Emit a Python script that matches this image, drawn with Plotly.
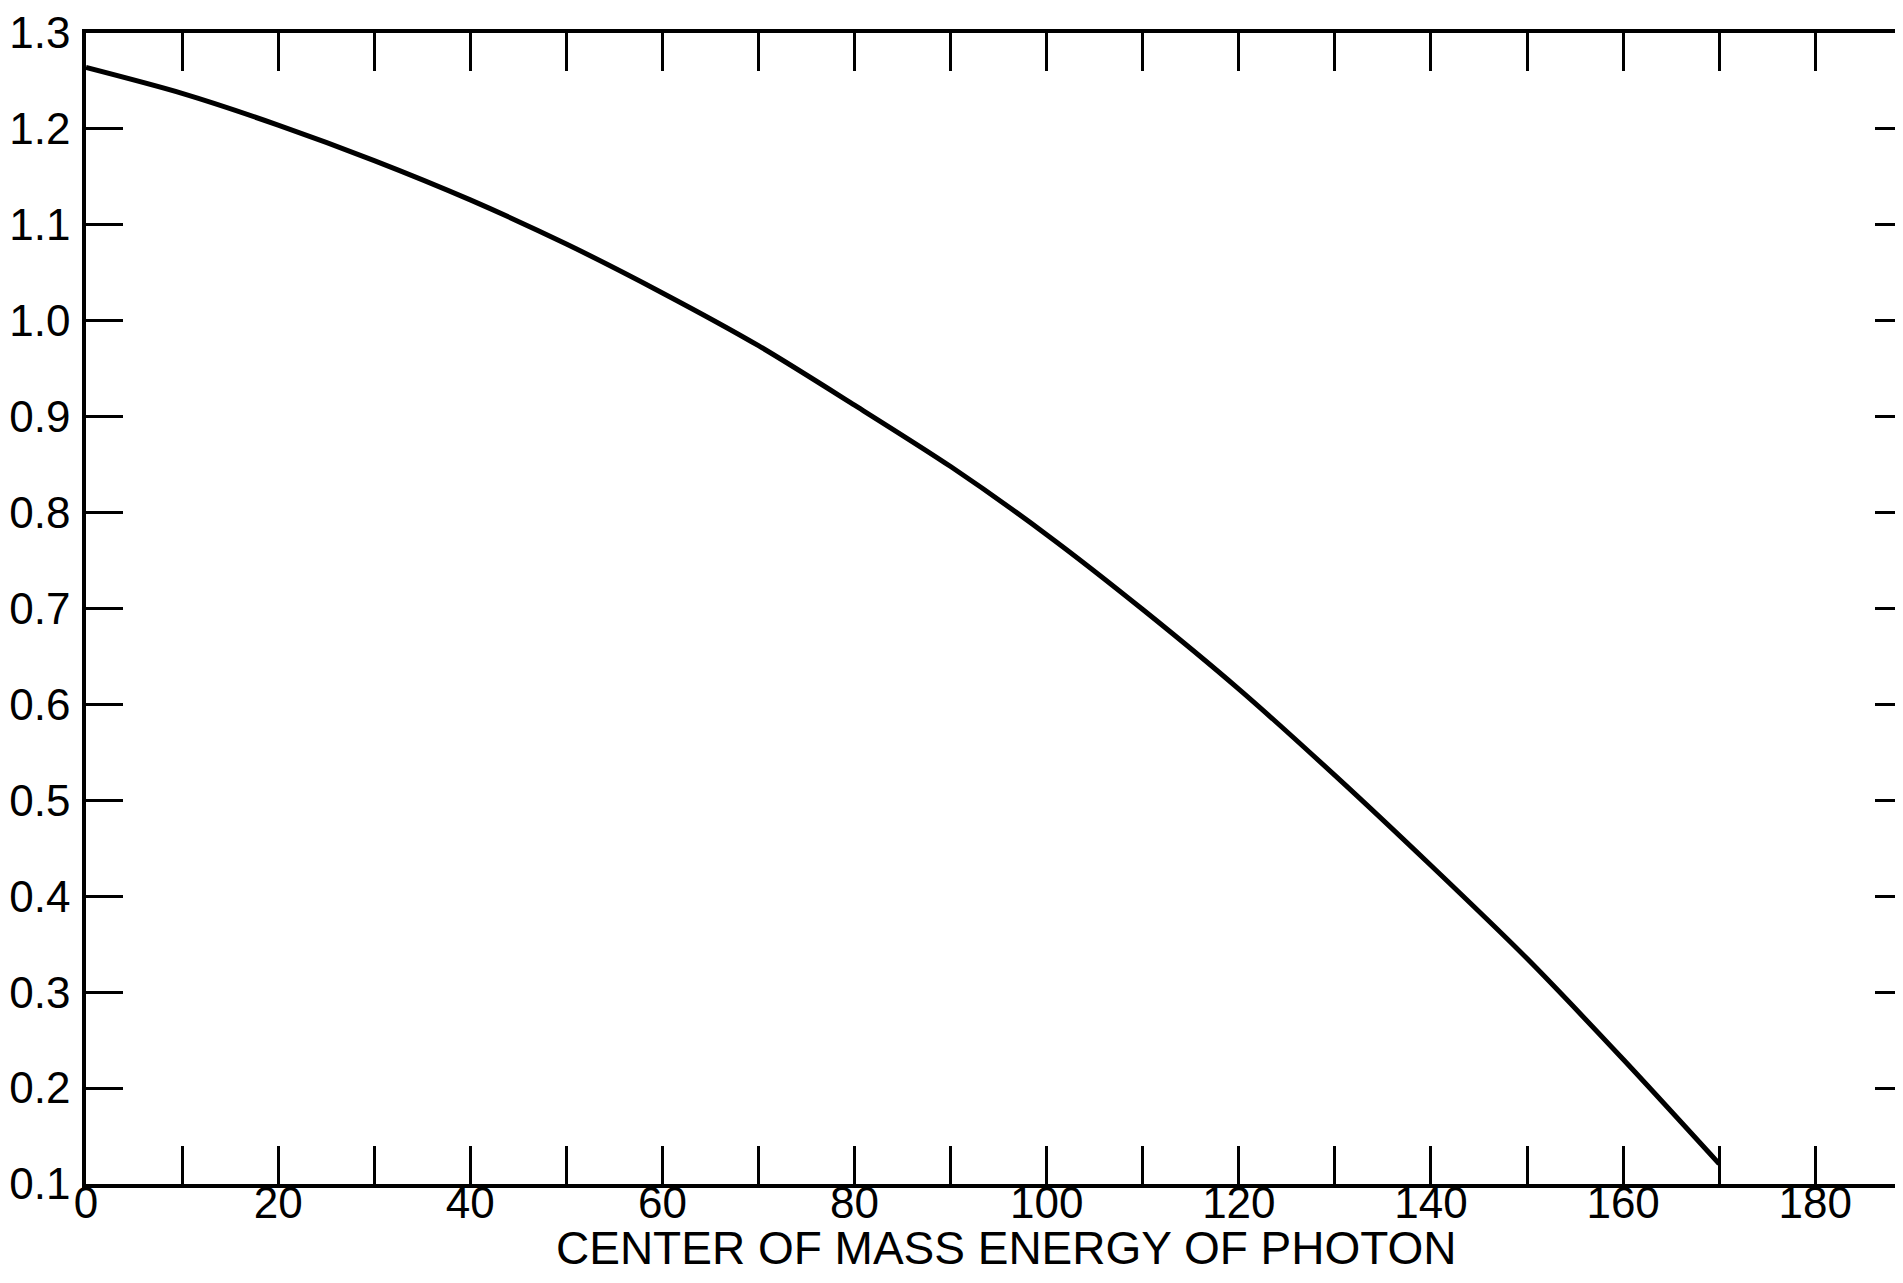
import plotly.graph_objects as go

# Data
energy = [0, 10, 20, 30, 40, 50, 60, 70, 80, 90, 100, 110, 120, 130, 140, 150, 160, 170]
value = [1.264, 1.237, 1.204, 1.167, 1.126, 1.080, 1.029, 0.974, 0.912, 0.848,
         0.777, 0.699, 0.616, 0.526, 0.432, 0.335, 0.230, 0.121]

x_tickvals = [0, 10, 20, 30, 40, 50, 60, 70, 80, 90, 100, 110, 120, 130, 140, 150, 160, 170, 180]
x_ticktext = ["0", "", "20", "", "40", "", "60", "", "80", "", "100", "", "120", "", "140", "", "160", "", "180"]
y_tickvals = [0.1, 0.2, 0.3, 0.4, 0.5, 0.6, 0.7, 0.8, 0.9, 1.0, 1.1, 1.2, 1.3]
y_ticktext = ["0.1", "0.2", "0.3", "0.4", "0.5", "0.6", "0.7", "0.8", "0.9", "1.0", "1.1", "1.2", "1.3"]
right_tickvals = [0.2, 0.3, 0.4, 0.5, 0.6, 0.7, 0.8, 0.9, 1.0, 1.1, 1.2]
x_title = "CENTER OF MASS ENERGY OF PHOTON"
x_title_center = 95.8

FONT = "Liberation Sans, Arial, sans-serif"

fig = go.Figure()
fig.add_trace(go.Scatter(
    x=energy, y=value, mode="lines",
    line=dict(color="black", width=5, shape="spline", smoothing=0.8),
    showlegend=False, hoverinfo="skip",
))
# invisible companion trace so the right-hand tick axis is drawn
fig.add_trace(go.Scatter(
    x=energy, y=value, yaxis="y2", mode="lines",
    line=dict(color="rgba(0,0,0,0)", width=0),
    showlegend=False, hoverinfo="skip",
))

fig.add_annotation(
    text=x_title, xref="x", x=x_title_center, yref="paper", y=0,
    xanchor="center", yanchor="middle", yshift=-64, showarrow=False,
    font=dict(size=46, family=FONT, color="black"),
)

fig.update_layout(
    width=1887, height=1267,
    margin=dict(l=78, r=0, t=25, b=91, autoexpand=False),
    paper_bgcolor="white", plot_bgcolor="white",
    font=dict(family=FONT, color="black"),
    xaxis=dict(
        range=[0, 188.3], tickvals=x_tickvals, ticktext=x_ticktext,
        ticks="inside", ticklen=38, tickwidth=3, tickcolor="black",
        showline=True, linewidth=3.5, linecolor="black", mirror="ticks",
        showgrid=False, zeroline=False,
        tickfont=dict(size=44, family=FONT, color="black"),
        ticklabelstandoff=-23, ticklabeloverflow="allow",
        automargin=False,
    ),
    yaxis=dict(
        range=[0.1, 1.3], tickvals=y_tickvals, ticktext=y_ticktext,
        ticks="inside", ticklen=37, tickwidth=3, tickcolor="black",
        showline=True, linewidth=3.5, linecolor="black", mirror=False,
        showgrid=False, zeroline=False,
        tickfont=dict(size=44, family=FONT, color="black"),
        ticklabelstandoff=3, ticklabeloverflow="allow",
        automargin=False,
    ),
    yaxis2=dict(
        overlaying="y", side="right", matches="y",
        tickvals=right_tickvals, showticklabels=False,
        ticks="inside", ticklen=20, tickwidth=3, tickcolor="black",
        showline=False, showgrid=False, zeroline=False,
        automargin=False,
    ),
)

fig.write_html("out.html")
